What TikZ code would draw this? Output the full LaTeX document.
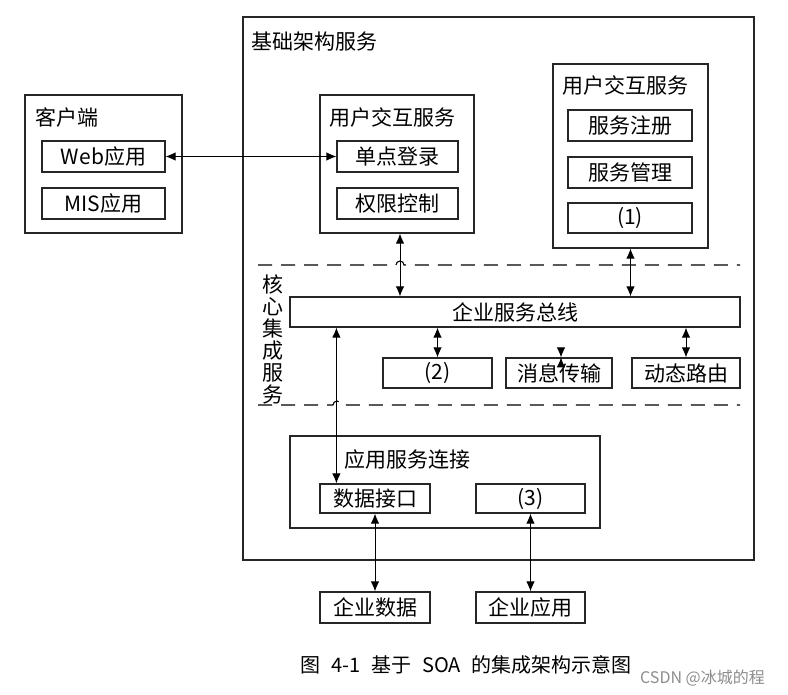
\documentclass[tikz,border=0pt]{standalone}
\usepackage{fontspec}
\setmainfont{Noto Sans CJK SC}
\usepackage{tikz}
\usetikzlibrary{arrows.meta,positioning,calc}

\begin{document}
\begin{tikzpicture}[
  x=1pt, y=-1pt,
  font=\fontsize{21}{22}\selectfont,
  frame/.style={draw=black!85, line width=1.2pt, inner sep=0pt},
  box/.style={frame, minimum height=31pt, align=center},
  tag/.style={anchor=west, inner sep=0pt},
  arrow/.style={<->, >={Latex[length=10pt,width=8.5pt]}, line width=1pt},
  sepline/.style={line width=1.1pt, dash pattern=on 14pt off 9pt},
]
\useasboundingbox (0,0) rectangle (788,695);

% outer frame
\node[frame, minimum width=511pt, minimum height=543pt] (infra) at (498.5,288.5) {};
\node[tag] (infraLbl) at ($(infra.north west)+(9,25)$) {基础架构服务};

% client side
\node[frame, minimum width=157pt, minimum height=138pt] (client) at (103.5,164) {};
\node[tag] (clientLbl) at ($(client.north west)+(11,23)$) {客户端};
\node[box, minimum width=123pt] (web) at (103.5,156.5) {Web应用};
\node[box, minimum width=123pt] (mis) at (103.5,203.5) {MIS应用};

% user interaction services
\node[frame, minimum width=154pt, minimum height=138pt] (uiL) at (397,164) {};
\node[tag] (uiLLbl) at ($(uiL.north west)+(10,23)$) {用户交互服务};
\node[box, minimum width=121pt] (sso) at (397.5,156.5) {单点登录};
\node[box, minimum width=121pt] (auth) at (397.5,203.5) {权限控制};

\node[frame, minimum width=155pt, minimum height=184pt] (uiR) at (630.5,156) {};
\node[tag] (uiRLbl) at ($(uiR.north west)+(10,22)$) {用户交互服务};
\node[box, minimum width=124pt] (reg) at (630,125.5) {服务注册};
\node[box, minimum width=124pt] (mgmt) at (630,172.5) {服务管理};
\node[box, minimum width=124pt, minimum height=30pt] (s1) at (630,218) {(1)};

% core integration services
\draw[sepline] (258,265) -- (396,265) arc[start angle=180, end angle=0, radius=4pt] -- (740,265);
\draw[sepline] (258,405) -- (333,405) arc[start angle=180, end angle=0, radius=4pt] -- (740,405);
\node[align=center, font=\fontsize{21}{22}\selectfont, inner sep=0pt] (coreLbl) at (273,339) {核\\心\\集\\成\\服\\务};

\node[box, minimum width=450pt, minimum height=30pt] (bus) at (515,312) {企业服务总线};
\node[box, minimum width=109pt, minimum height=30pt] (s2) at (437.5,373) {(2)};
\node[box, minimum width=106pt, minimum height=30pt] (msg) at (559,373) {消息传输};
\node[box, minimum width=108pt, minimum height=30pt] (route) at (686,373) {动态路由};

% application service connection
\node[frame, minimum width=310pt, minimum height=92pt] (conn) at (445,482) {};
\node[tag] (connLbl) at ($(conn.north west)+(55,24)$) {应用服务连接};
\node[box, minimum width=110pt, minimum height=29pt] (dataif) at (375,498.5) {数据接口};
\node[box, minimum width=109pt, minimum height=29pt] (s3) at (530.5,498.5) {(3)};

% enterprise resources
\node[box, minimum width=110pt] (edata) at (375,607.5) {企业数据};
\node[box, minimum width=109pt] (eapp) at (530.5,607.5) {企业应用};

% connectors
\coordinate (upL) at ($(uiL.south)+(3,0)$);
\coordinate (tapD) at ($(dataif.north west)+(17,0)$);
\draw[arrow] (web.east) -- (sso.west);
\draw[arrow] (upL) -- (upL |- bus.north);
\draw[arrow] (uiR.south) -- (uiR.south |- bus.north);
\draw[arrow] (s2.north |- bus.south) -- (s2.north);
\draw[arrow] ($(msg.north)+(2,0)$ |- bus.south) -- ($(msg.north)+(2,0)$);
\draw[arrow] (route.north |- bus.south) -- (route.north);
\draw[arrow] (tapD) -- (tapD |- bus.south);
\draw[arrow] (dataif.south) -- (edata.north);
\draw[arrow] (s3.south) -- (eapp.north);

% caption
\node[font=\fontsize{20}{22}\selectfont] (cap) at (466,665) {图\hspace{11pt}4-1\hspace{11pt}基于\hspace{11pt}SOA\hspace{11pt}的集成架构示意图};
\node[tag, font=\fontsize{16}{18}\selectfont, text=black!45] (mark) at (640,678) {CSDN @冰城的程};

\end{tikzpicture}
\end{document}
